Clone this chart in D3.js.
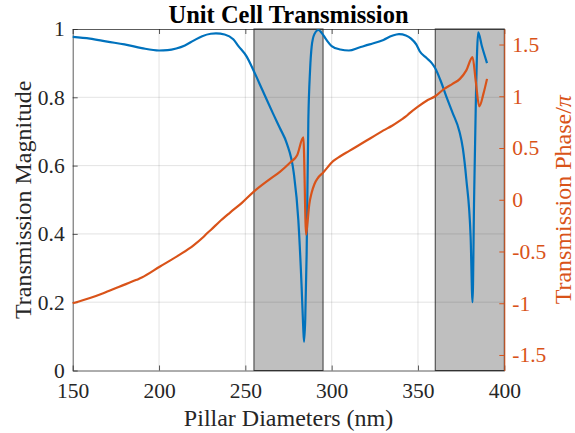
<!DOCTYPE html>
<html><head><meta charset="utf-8">
<script src="https://cdn.jsdelivr.net/npm/d3@7"></script>
<style>html,body{margin:0;padding:0;background:#fff;} svg{display:block;}</style>
</head><body>
<svg id="c" width="575" height="433"></svg>
<script>
// ---- data ----
const magDiam = [150,160,170,180,190,200,205,210,215,220,225,230,233,238,243,246,250.8,254.6,260,266,270,274,278,280.7,282.6,283.5,284,284.7,285.5,286.5,287.5,288.4,290,292.3,294,297,300,305,310,316,322,330,335,339,343,346,349,351,355,358,360,363,366.6,370,374,376,378,380.5,381.6,382.5,383.6,384.9,387,390];
const magVals = [0.977,0.972,0.963,0.955,0.944,0.937,0.938,0.943,0.952,0.966,0.979,0.986,0.987,0.984,0.970,0.950,0.919,0.880,0.82,0.753,0.71,0.665,0.58,0.44,0.245,0.13,0.084,0.15,0.34,0.734,0.88,0.948,0.985,0.997,0.99,0.968,0.95,0.94,0.937,0.946,0.955,0.968,0.98,0.985,0.981,0.972,0.955,0.935,0.915,0.9,0.885,0.85,0.8,0.755,0.7,0.65,0.56,0.39,0.2,0.5,0.81,0.99,0.95,0.9];
const phDiam = [150,160,167.7,177,187,190,200.6,212,220,225.7,228,230,235,241,248,254.6,264,270,276,280,283.6,285.2,286,287,288.4,290,292,295,301,305,310,315,320,325,330,335,340,343,345,350,355,360,365,370,374.3,378,381.6,383.5,385.5,388,390];
const phVals = [-1.0,-0.95,-0.903,-0.84,-0.774,-0.752,-0.645,-0.531,-0.44,-0.36,-0.322,-0.292,-0.212,-0.126,-0.03,0.074,0.197,0.27,0.36,0.43,0.602,-0.337,-0.22,-0.05,0.068,0.15,0.21,0.262,0.375,0.42,0.47,0.52,0.57,0.62,0.67,0.715,0.77,0.805,0.835,0.9,0.957,1.0,1.07,1.12,1.168,1.25,1.379,1.14,0.903,1.03,1.168];
const shadeStart = [255, 360];
const shadeEnd = [295, 400];
const xTicks = [150,200,250,300,350,400];
const yLeftTicks = [0,0.2,0.4,0.6,0.8,1];
const yRightTicks = [-1.5,-1,-0.5,0,0.5,1,1.5];
const titleText = "Unit Cell Transmission";
const xLabel = "Pillar Diameters (nm)";
const yLeftLabel = "Transmission Magnitude";
const yRightLabel = "Transmission Phase/";

// ---- layout ----
const L = 72.7, R = 504.3, T = 29, B = 370.5;
const blue = "#0072BD", orange = "#D95319", axc = "#262626";
const svg = d3.select("#c");
const font = "'Liberation Serif','Times New Roman',serif";

const x = d3.scaleLinear().domain([150,400]).range([L,R]);
const yL = d3.scaleLinear().domain([0,1]).range([B,T]);
const yR = d3.scaleLinear().domain([-1.65,1.65]).range([B,T]);

// shaded regions
svg.append("g").selectAll("rect").data(d3.zip(shadeStart, shadeEnd)).join("rect")
  .attr("x", d => x(d[0])).attr("y", T)
  .attr("width", d => x(d[1]) - x(d[0])).attr("height", B - T)
  .attr("fill", "#bfbfbf").attr("stroke", "#3a3a3a").attr("stroke-width", 1);

// grid
const grid = svg.append("g").attr("stroke", axc).attr("stroke-opacity", 0.13).attr("stroke-width", 1);
grid.selectAll("line.gx").data(xTicks.slice(1,-1)).join("line")
  .attr("x1", d => x(d)).attr("x2", d => x(d)).attr("y1", T).attr("y2", B);
grid.selectAll("line.gy").data(yLeftTicks.slice(1,-1)).join("line")
  .attr("y1", d => yL(d)).attr("y2", d => yL(d)).attr("x1", L).attr("x2", R);

// axes
const gx = svg.append("g").attr("transform", `translate(0,${B})`)
  .call(d3.axisBottom(x).tickValues(xTicks).tickSizeInner(-5).tickSizeOuter(0).tickPadding(12).tickFormat(d3.format("d")));
const gxt = svg.append("g").attr("transform", `translate(0,${T})`)
  .call(d3.axisTop(x).tickValues(xTicks).tickSizeInner(-5).tickSizeOuter(0).tickFormat(""));
const gyl = svg.append("g").attr("transform", `translate(${L},0)`)
  .call(d3.axisLeft(yL).tickValues(yLeftTicks).tickSizeInner(-5).tickSizeOuter(0).tickPadding(8).tickFormat(d => d === 0 || d === 1 ? String(d) : d3.format(".1f")(d)));
const gyr = svg.append("g").attr("transform", `translate(${R},0)`)
  .call(d3.axisRight(yR).tickValues(yRightTicks).tickSizeInner(-5).tickSizeOuter(0).tickPadding(8).tickFormat(d => String(d).replace("\u2212","-")));

[gx, gxt, gyl].forEach(g => {
  g.select(".domain").attr("stroke", axc).attr("stroke-opacity", 0.75);
  g.selectAll(".tick line").attr("stroke", axc).attr("stroke-opacity", 0.75);
  g.selectAll("text").attr("fill", axc).style("font-family", font).style("font-size", "21.5px");
});
gyr.select(".domain").attr("stroke", orange);
gyr.selectAll(".tick line").attr("stroke", orange);
gyr.selectAll("text").attr("fill", orange).style("font-family", font).style("font-size", "21.5px");

// lines
const lineMag = d3.line().x(d => x(d[0])).y(d => yL(d[1])).curve(d3.curveMonotoneX);
const linePh = d3.line().x(d => x(d[0])).y(d => yR(d[1])).curve(d3.curveMonotoneX);
svg.append("path").datum(d3.zip(magDiam, magVals)).attr("d", lineMag)
  .attr("fill", "none").attr("stroke", blue).attr("stroke-width", 2.2).attr("stroke-linejoin", "round");
svg.append("path").datum(d3.zip(phDiam, phVals)).attr("d", linePh)
  .attr("fill", "none").attr("stroke", orange).attr("stroke-width", 2.2).attr("stroke-linejoin", "round");

// labels
svg.append("text").attr("x", (L+R)/2).attr("y", 22.5).attr("text-anchor", "middle")
  .style("font-family", font).style("font-size", "24.5px").style("font-weight", "bold").attr("fill", "#000").text(titleText);
svg.append("text").attr("x", (L+R)/2).attr("y", 426).attr("text-anchor", "middle")
  .style("font-family", font).style("font-size", "24px").attr("fill", axc).text(xLabel);
svg.append("text").attr("transform", `translate(30.5,${(T+B)/2}) rotate(-90)`).attr("text-anchor", "middle")
  .style("font-family", font).style("font-size", "24px").attr("fill", axc).text(yLeftLabel);
const rl = svg.append("text").attr("transform", `translate(571,${(T+B)/2}) rotate(-90)`).attr("text-anchor", "middle")
  .style("font-family", font).style("font-size", "24px").attr("fill", orange);
rl.append("tspan").text(yRightLabel);
rl.append("tspan").style("font-style", "italic").text("\u03C0");
</script>
</body></html>
